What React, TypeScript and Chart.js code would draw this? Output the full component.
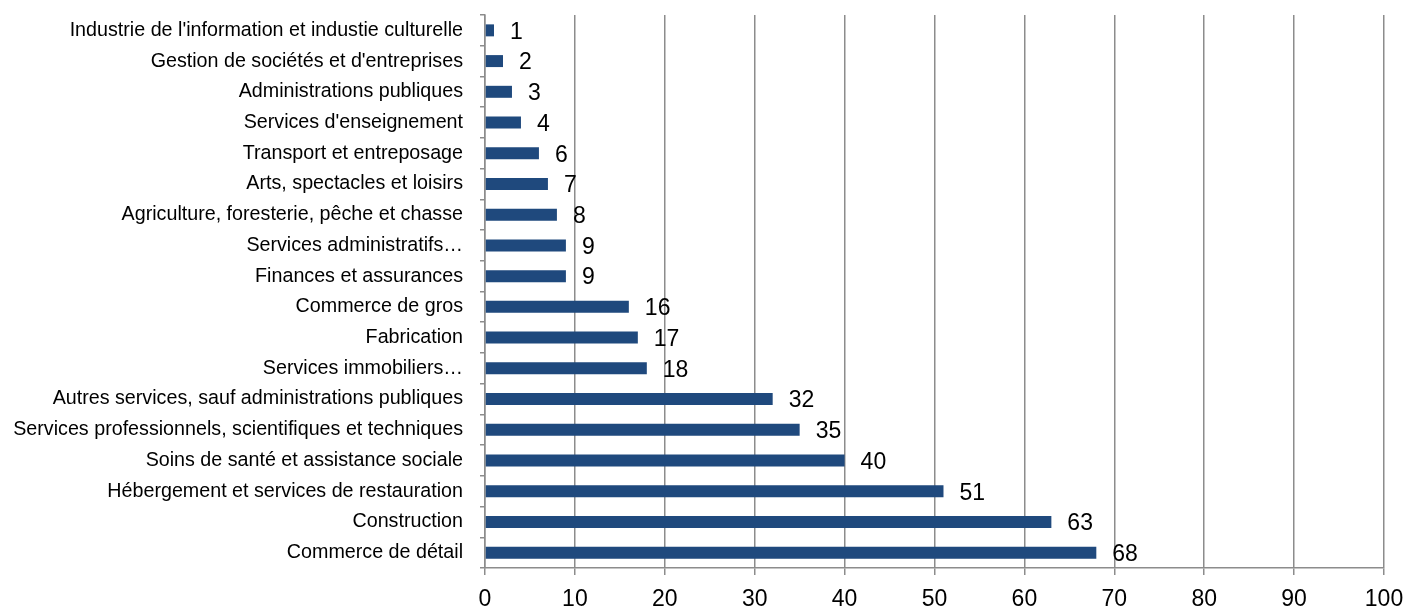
import React, { useEffect, useRef } from "react";
import { Chart, registerables } from "chart.js";

Chart.register(...registerables);

const categories: string[] = [
  "Industrie de l'information et industie culturelle",
  "Gestion de sociétés et d'entreprises",
  "Administrations publiques",
  "Services d'enseignement",
  "Transport et entreposage",
  "Arts, spectacles et loisirs",
  "Agriculture, foresterie, pêche et chasse",
  "Services administratifs…",
  "Finances et assurances",
  "Commerce de gros",
  "Fabrication",
  "Services immobiliers…",
  "Autres services, sauf administrations publiques",
  "Services professionnels, scientifiques et techniques",
  "Soins de santé et assistance sociale",
  "Hébergement et services de restauration",
  "Construction",
  "Commerce de détail",
];

const values: number[] = [1, 2, 3, 4, 6, 7, 8, 9, 9, 16, 17, 18, 32, 35, 40, 51, 63, 68];

const xMin = 0;
const xMax = 100;
const xStep = 10;

const FONT = "'Liberation Sans', Arial, sans-serif";

const labelPlugin = {
  id: "barValueLabels",
  afterDatasetsDraw(chart: any) {
    const ctx = chart.ctx;
    const meta = chart.getDatasetMeta(0);
    ctx.save();
    ctx.fillStyle = "#000";
    ctx.font = `23px ${FONT}`;
    ctx.textAlign = "left";
    ctx.textBaseline = "middle";
    meta.data.forEach((bar: any, i: number) => {
      ctx.fillText(String(values[i]), bar.x + 16, bar.y + 2);
    });
    ctx.restore();
  },
};

export default function App() {
  const ref = useRef<HTMLCanvasElement | null>(null);

  useEffect(() => {
    if (!ref.current) return;
    const chart = new Chart(ref.current, {
      type: "bar",
      data: {
        labels: categories,
        datasets: [
          {
            data: values,
            backgroundColor: "#1F497D",
            borderWidth: 0,
            categoryPercentage: 1,
            barPercentage: 0.39,
          },
        ],
      },
      options: {
        indexAxis: "y",
        animation: false,
        responsive: false,
        maintainAspectRatio: false,
        layout: { padding: { top: 15, right: 19, left: 0, bottom: 0 } },
        plugins: {
          legend: { display: false },
          tooltip: { enabled: false },
        },
        scales: {
          x: {
            min: xMin,
            max: xMax,
            ticks: {
              stepSize: xStep,
              color: "#000",
              font: { family: FONT, size: 23 },
              padding: 11,
              maxRotation: 0,
            },
            grid: {
              color: "#8c8c8c",
              lineWidth: 1.5,
              drawTicks: true,
              tickLength: 7,
            },
            border: { color: "#8c8c8c", width: 1.5 },
            afterFit: (scale: any) => {
              scale.height = 43;
              scale.paddingLeft = 0;
              scale.paddingRight = 0;
            },
          },
          y: {
            ticks: {
              color: "#000",
              font: { family: FONT, size: 19.7 },
              padding: 17,
              autoSkip: false,
            },
            grid: {
              drawOnChartArea: false,
              drawTicks: true,
              tickLength: 5,
              color: "#8c8c8c",
              lineWidth: 1.5,
              offset: true,
            },
            border: { color: "#8c8c8c", width: 1.5 },
            afterFit: (scale: any) => {
              scale.width = 485;
              scale.paddingTop = 0;
              scale.paddingBottom = 0;
            },
          },
        },
      },
      plugins: [labelPlugin],
    });
    return () => chart.destroy();
  }, []);

  return (
    <div style={{ position: "fixed", left: 0, top: 0, width: 1403, height: 611, background: "#fff" }}>
      <canvas ref={ref} width={1403} height={611} style={{ width: 1403, height: 611 }} />
    </div>
  );
}
